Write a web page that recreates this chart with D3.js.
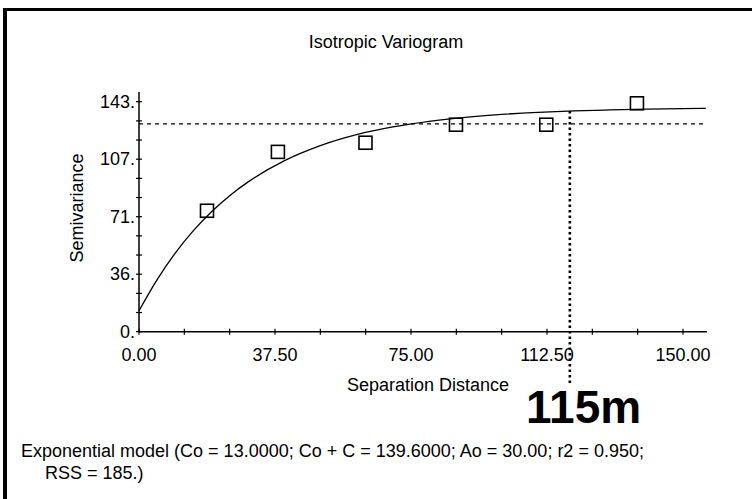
<!DOCTYPE html>
<html><head><meta charset="utf-8">
<script src="https://cdn.jsdelivr.net/npm/d3@7"></script>
<style>
html,body{margin:0;padding:0;background:#fff;}
svg text{font-family:"Liberation Sans",Arial,sans-serif;fill:#000;}
</style></head>
<body><svg id="c" width="752" height="499"></svg>
<script>
// ---- data ----
const title = "Isotropic Variogram";
const xLabel = "Separation Distance";
const yLabel = "Semivariance";
const xMajorTicks = [0, 37.5, 75, 112.5, 150];
const xTickLabels = ["0.00", "37.50", "75.00", "112.50", "150.00"];
const yMajorTicks = [0, 35.75, 71.5, 107.25, 143];
const yTickLabels = ["0.", "36.", "71.", "107.", "143."];
const lagDistance = [18.75, 38.3, 62.45, 87.4, 112.3, 137.3];
const semivariance = [75.2, 111.8, 117.5, 128.7, 128.7, 142.0];
const modelDistance = [0, 5, 10, 15, 20, 25, 30, 40, 50, 60, 70, 80, 90, 100, 110, 120, 130, 140, 150, 156.3];
const modelValue = [13, 32.4, 48.9, 62.8, 74.6, 84.6, 93.0, 106.2, 115.7, 122.5, 127.3, 130.8, 133.3, 135.1, 136.4, 137.3, 137.9, 138.4, 138.75, 138.9];
const sillValue = 129.2;
const rangeMark = 118.8;      // vertical dotted marker position
const rangeMarkTop = 137.2;   // marker meets the model curve
const rangeMarkBottom = -31.9;
const rangeLabel = "115m";
const footer = ["Exponential model (Co = 13.0000; Co + C = 139.6000; Ao = 30.00; r2 = 0.950;", "RSS = 185.)"];
const xAxisEnd = 156.6, yAxisEnd = 149;

// ---- drawing ----
const svg = d3.select("#c");
const x = d3.scaleLinear().domain([0, 150]).range([139, 683]);
const y = d3.scaleLinear().domain([0, 143]).range([331.7, 101.7]);
const fs = "18px";

// frame
svg.append("rect").attr("x", 3).attr("y", 8).attr("width", 749).attr("height", 3).attr("fill", "#000");
svg.append("rect").attr("x", 3).attr("y", 8).attr("width", 4).attr("height", 491).attr("fill", "#000");

// title
svg.append("text").attr("x", 386).attr("y", 48).attr("text-anchor", "middle").style("font-size", fs).text(title);

// minor ticks
const xMinor = d3.range(0, 150.001, 12.5);
const yMinor = d3.range(0, 143.001, 143 / 12);

const gx = svg.append("g");
gx.append("line").attr("x1", x(0)).attr("x2", x(xAxisEnd)).attr("y1", y(0)).attr("y2", y(0)).attr("stroke", "#000").attr("stroke-width", 1.5);
gx.selectAll("line.t").data(xMinor).join("line").attr("class", "t")
  .attr("x1", d => x(d)).attr("x2", d => x(d)).attr("y1", y(0) - 3).attr("y2", y(0) + 3).attr("stroke", "#000").attr("stroke-width", 1.2);
gx.selectAll("text").data(xMajorTicks).join("text")
  .attr("x", d => x(d)).attr("y", y(0) + 29).attr("text-anchor", "middle").style("font-size", fs)
  .text((d, i) => xTickLabels[i]);

const gy = svg.append("g");
gy.append("line").attr("x1", x(0)).attr("x2", x(0)).attr("y1", y(0)).attr("y2", y(yAxisEnd)).attr("stroke", "#000").attr("stroke-width", 1.5);
gy.selectAll("line.t").data(yMinor).join("line").attr("class", "t")
  .attr("x1", x(0) - 3).attr("x2", x(0) + 3).attr("y1", d => y(d)).attr("y2", d => y(d)).attr("stroke", "#000").attr("stroke-width", 1.2);
gy.selectAll("text").data(yMajorTicks).join("text")
  .attr("x", x(0) - 4).attr("y", d => y(d) + 6).attr("text-anchor", "end").style("font-size", fs)
  .text((d, i) => yTickLabels[i]);

// axis titles
svg.append("text").attr("x", 428).attr("y", 391).attr("text-anchor", "middle").style("font-size", fs).text(xLabel);
svg.append("text").attr("transform", "translate(83,208) rotate(-90)").attr("text-anchor", "middle").style("font-size", fs).text(yLabel);

// sill line
svg.append("line").attr("x1", x(0)).attr("x2", x(xAxisEnd)).attr("y1", y(sillValue)).attr("y2", y(sillValue))
  .attr("stroke", "#000").attr("stroke-width", 1.2).attr("stroke-dasharray", "4,4");

// model curve
const line = d3.line().x(d => x(d[0])).y(d => y(d[1])).curve(d3.curveMonotoneX);
svg.append("path").datum(modelDistance.map((d, i) => [d, modelValue[i]]))
  .attr("d", line).attr("fill", "none").attr("stroke", "#000").attr("stroke-width", 1.3);

// points
const sz = 13;
svg.selectAll("rect.pt").data(lagDistance.map((d, i) => [d, semivariance[i]])).join("rect").attr("class", "pt")
  .attr("x", d => x(d[0]) - sz / 2).attr("y", d => y(d[1]) - sz / 2).attr("width", sz).attr("height", sz)
  .attr("fill", "none").attr("stroke", "#000").attr("stroke-width", 1.6);

// range marker
svg.append("line").attr("x1", x(rangeMark)).attr("x2", x(rangeMark)).attr("y1", y(rangeMarkTop)).attr("y2", y(rangeMarkBottom))
  .attr("stroke", "#000").attr("stroke-width", 2.6).attr("stroke-dasharray", "2.5,3");
svg.append("text").attr("x", 526).attr("y", 423).style("font-size", "46px").style("font-weight", "bold").text(rangeLabel);

// footer
svg.append("text").attr("x", 21).attr("y", 457).style("font-size", fs).text(footer[0]);
svg.append("text").attr("x", 45).attr("y", 479).style("font-size", fs).text(footer[1]);
</script></body></html>
